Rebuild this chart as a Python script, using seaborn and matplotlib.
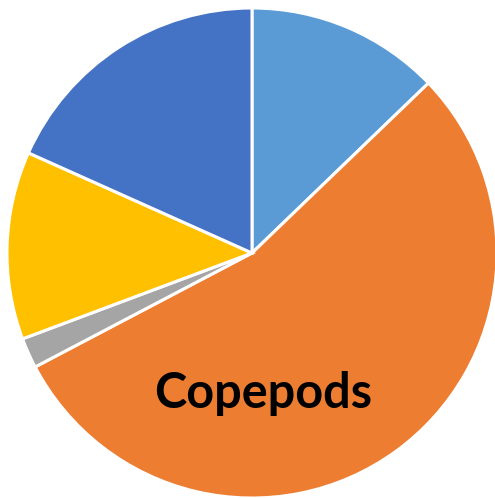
import matplotlib
matplotlib.use("Agg")
import matplotlib.pyplot as plt
import seaborn as sns

# Share of each group (percent), clockwise from 12 o'clock
groups = ["Other A", "Copepods", "Other B", "Other C", "Other D"]
shares = [12.8, 54.5, 2.0, 12.4, 18.3]
colors = ["#5B9BD5", "#ED7D31", "#A5A5A5", "#FFC000", "#4472C4"]
explode = [0, 0.02, 0, 0, 0]

sns.set_theme(style="white")
plt.rcParams["font.family"] = ["Lato", "DejaVu Sans"]

fig = plt.figure(figsize=(4.95, 4.98), dpi=100)
ax = fig.add_axes([0, 0, 1, 1])

R = 245
ax.pie(shares, colors=colors, explode=explode, radius=R,
       startangle=90, counterclock=False,
       wedgeprops=dict(edgecolor="white", linewidth=2.2))

ax.text(11.5, -155, "Copepods", ha="center", va="baseline",
        fontsize=35, fontweight="bold", color="black")

ax.set_xlim(-252, 243)
ax.set_ylim(-245, 253)
ax.set_aspect("equal")
ax.axis("off")

fig.savefig("out.png", dpi=100, facecolor="white")
